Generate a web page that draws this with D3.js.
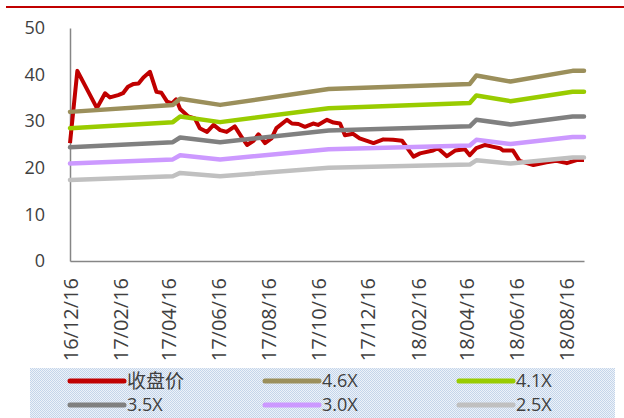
<!DOCTYPE html>
<html>
<head>
<meta charset="utf-8">
<script src="https://cdn.jsdelivr.net/npm/d3@7"></script>
<style>
  html, body { margin: 0; padding: 0; background: #fff; }
  svg { display: block; }
</style>
</head>
<body>
<svg id="chart" width="624" height="418"></svg>
<script>
// Closing price (收盘价)
const priceDates = ["2016-12-16","2016-12-25","2017-01-18","2017-01-28","2017-02-03","2017-02-13","2017-02-19","2017-02-25","2017-03-04","2017-03-10","2017-03-16","2017-03-24","2017-04-01","2017-04-07","2017-04-14","2017-04-20","2017-04-25","2017-04-30","2017-05-10","2017-05-18","2017-05-24","2017-06-02","2017-06-10","2017-06-18","2017-06-26","2017-07-06","2017-07-14","2017-07-21","2017-07-29","2017-08-04","2017-08-12","2017-08-20","2017-08-26","2017-09-08","2017-09-14","2017-09-22","2017-09-30","2017-10-10","2017-10-16","2017-10-27","2017-11-04","2017-11-12","2017-11-18","2017-11-28","2017-12-06","2017-12-23","2018-01-04","2018-01-16","2018-01-27","2018-02-10","2018-02-18","2018-03-06","2018-03-12","2018-03-23","2018-04-02","2018-04-14","2018-04-20","2018-04-28","2018-05-09","2018-05-19","2018-05-27","2018-05-31","2018-06-12","2018-06-20","2018-07-07","2018-07-23","2018-08-04","2018-08-17","2018-08-30","2018-09-07"];
const priceValues = [25.3,40.8,32.8,36.0,35.1,35.6,36.0,37.4,38.0,38.1,39.4,40.6,36.3,36.1,34.2,33.8,34.7,32.6,31.0,30.6,28.5,27.7,29.2,28.1,27.7,28.9,26.7,24.9,25.8,27.2,25.3,26.3,28.5,30.3,29.5,29.4,28.8,29.5,29.2,30.3,29.7,29.5,27.0,27.3,26.3,25.3,26.1,26.0,25.8,22.4,23.1,23.7,24.2,22.5,23.7,24.0,22.7,24.2,24.9,24.5,24.2,23.7,23.7,21.5,20.6,21.2,21.5,21.0,21.7,21.7];

// PB band lines
const bandDates = ["2016-12-16","2017-04-21","2017-04-30","2017-06-18","2017-10-29","2018-04-20","2018-04-28","2018-06-09","2018-08-24","2018-09-07"];
const band46 = [32.0,33.5,34.8,33.5,36.9,38.0,39.8,38.5,40.8,40.8];
const band41 = [28.5,29.8,31.0,29.8,32.8,33.9,35.5,34.3,36.3,36.3];
const band35 = [24.4,25.5,26.5,25.5,28.0,28.9,30.3,29.3,31.0,31.0];
const band30 = [20.9,21.8,22.7,21.8,24.0,24.8,26.0,25.1,26.6,26.6];
const band25 = [17.4,18.2,18.9,18.2,20.0,20.7,21.6,20.9,22.2,22.2];

const yTicks = [0, 10, 20, 30, 40, 50];
const xTickDates = ["2016-12-16","2017-02-16","2017-04-16","2017-06-16","2017-08-16","2017-10-16","2017-12-16","2018-02-16","2018-04-16","2018-06-16","2018-08-16"];

const seriesNames = ["收盘价", "4.6X", "4.1X", "3.5X", "3.0X", "2.5X"];
const seriesColors = ["#c00000", "#9b8f5b", "#99cc00", "#808080", "#cc99ff", "#c0c0c0"];

const parse = d3.timeParse("%Y-%m-%d");
const svg = d3.select("#chart");

// fine dotted fill for the legend panel
const defs = svg.append("defs");
const pat = defs.append("pattern").attr("id", "dots")
  .attr("width", 2).attr("height", 2).attr("patternUnits", "userSpaceOnUse");
pat.append("rect").attr("width", 2).attr("height", 2).attr("fill", "#edf2f9");
pat.append("rect").attr("x", 0).attr("y", 0).attr("width", 1).attr("height", 1).attr("fill", "#c4d5ea");
pat.append("rect").attr("x", 1).attr("y", 1).attr("width", 1).attr("height", 1).attr("fill", "#c4d5ea");

// header rule
svg.append("line").attr("x1", 6).attr("x2", 624).attr("y1", 7).attr("y2", 7)
  .attr("stroke", "#c00000").attr("stroke-width", 2);

const x = d3.scaleTime()
  .domain([parse("2016-12-16"), parse("2018-09-07")])
  .range([70, 584]);
const y = d3.scaleLinear().domain([0, 50]).range([261, 28]);

// y axis
const yAxis = svg.append("g").attr("transform", "translate(70,0)")
  .call(d3.axisLeft(y).tickValues(yTicks).tickSize(0).tickSizeOuter(0).tickPadding(25));
yAxis.select(".domain").attr("stroke", "#868686").attr("stroke-width", 1.5);
yAxis.selectAll("text")
  .attr("font-family", "'Open Sans', sans-serif")
  .attr("font-size", 18).attr("fill", "#404040");

// x axis
const xAxis = svg.append("g").attr("transform", "translate(0,261)")
  .call(d3.axisBottom(x).tickValues(xTickDates.map(parse))
    .tickFormat(d3.timeFormat("%y/%m/%d")).tickSize(0).tickSizeOuter(0));
xAxis.select(".domain").attr("stroke", "#868686").attr("stroke-width", 1.5);
xAxis.selectAll("text")
  .attr("transform", "rotate(-90)")
  .attr("x", -17).attr("y", 0).attr("dy", "0.36em")
  .attr("text-anchor", "end")
  .attr("font-family", "'Open Sans', sans-serif")
  .attr("font-size", 20).attr("fill", "#404040");

// price and band lines
const line = d3.line().x(d => x(d.date)).y(d => y(d.value));
const toPts = (dates, vals) => dates.map((d, i) => ({ date: parse(d), value: vals[i] }));

const series = [
  toPts(priceDates, priceValues),
  toPts(bandDates, band46),
  toPts(bandDates, band41),
  toPts(bandDates, band35),
  toPts(bandDates, band30),
  toPts(bandDates, band25)
];

svg.append("g").selectAll("path").data(series).join("path")
  .attr("d", line)
  .attr("fill", "none")
  .attr("stroke", (d, i) => seriesColors[i])
  .attr("stroke-width", (d, i) => i === 0 ? 4 : 4.5)
  .attr("stroke-linejoin", "round")
  .attr("stroke-linecap", (d, i) => i === 0 ? "butt" : "round");

// legend
svg.append("rect").attr("x", 30).attr("y", 368).attr("width", 585).attr("height", 50)
  .attr("fill", "url(#dots)");

const colX = [70, 265, 459];
const rowY = [381, 405];
const lg = svg.append("g").selectAll("g").data(seriesNames).join("g")
  .attr("transform", (d, i) => `translate(${colX[i % 3]},${rowY[Math.floor(i / 3)]})`);
lg.append("line").attr("x1", 0).attr("x2", 54).attr("y1", 0).attr("y2", 0)
  .attr("stroke", (d, i) => seriesColors[i]).attr("stroke-width", 5)
  .attr("stroke-linecap", "round");
lg.append("text").attr("x", 57).attr("y", 0).attr("dy", "0.36em")
  .attr("font-family", (d, i) => i === 0 ? "'Noto Sans CJK SC', sans-serif" : "'Open Sans', sans-serif")
  .attr("font-size", (d, i) => i === 0 ? 19 : 18)
  .attr("fill", "#404040")
  .text(d => d);
</script>
</body>
</html>
